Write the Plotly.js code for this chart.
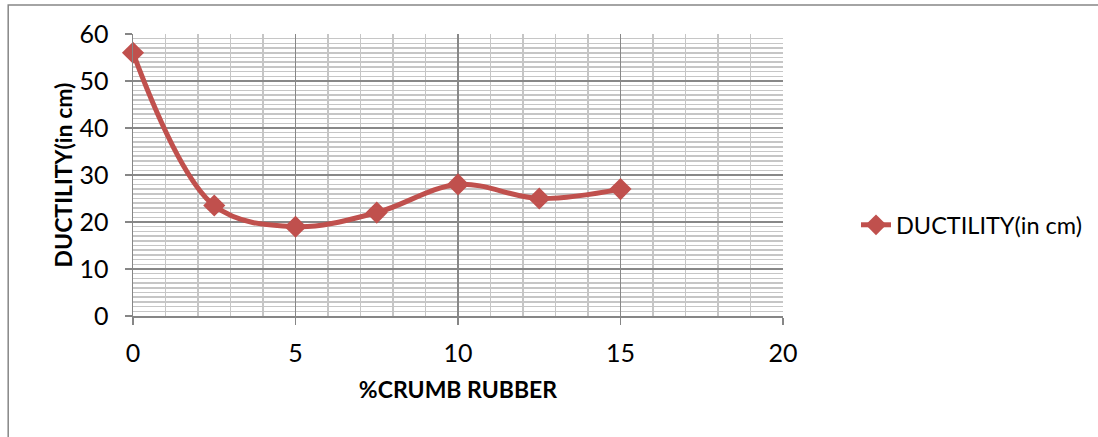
<!DOCTYPE html>
<html>
<head>
<meta charset="utf-8">
<script src="https://cdn.plot.ly/plotly-3.0.1.min.js"></script>
<style>html,body{margin:0;padding:0;background:#fff;}#chart{width:1098px;height:437px;}</style>
</head>
<body>
<div id="chart"></div>
<script>
const crumbRubber = [0, 2.5, 5, 7.5, 10, 12.5, 15];
const ductility = [56, 23.5, 19, 22, 28, 25, 27];
const seriesName = 'DUCTILITY(in cm)';
const xTitle = '%CRUMB RUBBER';
const yTitle = 'DUCTILITY(in cm)';

const FONT = 'Lato, "Open Sans", sans-serif';
const L = 133, R = 314, T = 34, B = 121;
const W = 1098, H = 437;
const pw = W - L - R, ph = H - T - B;
const px = v => (v - L) / pw;
const py = v => (H - B - v) / ph;

const trace = {
  x: crumbRubber, y: ductility, name: seriesName,
  type: 'scatter', mode: 'lines+markers', cliponaxis: false,
  line: {color: '#C0504D', width: 5, shape: 'spline', smoothing: 1},
  marker: {symbol: 'diamond', size: 17, color: '#C0504D'}
};

const layout = {
  width: W, height: H,
  margin: {l: L, r: R, t: T, b: B, pad: 0},
  paper_bgcolor: '#fff', plot_bgcolor: '#fff',
  font: {family: FONT, size: 25, color: '#000'},
  showlegend: true,
  legend: {x: px(856), y: py(225), xanchor: 'left', yanchor: 'middle',
    font: {family: FONT, size: 23.5, color: '#000'}, bgcolor: 'rgba(0,0,0,0)'},
  xaxis: {
    range: [0, 20], dtick: 5, tick0: 0, showline: true, linecolor: '#868686', linewidth: 1.5,
    showgrid: true, gridcolor: '#888888', gridwidth: 1.3,
    ticks: 'outside', ticklen: 7, tickcolor: '#868686', tickwidth: 1.5,
    ticklabelstandoff: 7, zeroline: false,
    tickfont: {family: FONT, size: 25, color: '#000'},
    minor: {dtick: 1, showgrid: true, gridcolor: '#c6c6c6', gridwidth: 1.5},
    title: {text: '<b>' + xTitle + '</b>', font: {family: FONT, size: 23, color: '#000'}, standoff: 16}
  },
  yaxis: {
    range: [0, 60], dtick: 10, tick0: 0, showline: true, linecolor: '#868686', linewidth: 1.5,
    showgrid: true, gridcolor: '#888888', gridwidth: 1.3,
    ticks: 'outside', ticklen: 7, tickcolor: '#868686', tickwidth: 1.5,
    ticklabelstandoff: 11, zeroline: false,
    tickfont: {family: FONT, size: 25, color: '#000'},
    minor: {dtick: 1, showgrid: true, gridcolor: '#c6c6c6', gridwidth: 1.5},
    title: {text: '<b>' + yTitle + '</b>', font: {family: FONT, size: 23, color: '#000'}, standoff: 0}
  },
  shapes: [{type: 'rect', xref: 'paper', yref: 'paper',
    x0: px(8), x1: px(1105), y0: py(5), y1: py(460),
    line: {color: '#868686', width: 1.5}, fillcolor: 'rgba(0,0,0,0)', layer: 'below'}]
};

Plotly.newPlot('chart', [trace], layout, {displayModeBar: false, staticPlot: true});
</script>
</body>
</html>
